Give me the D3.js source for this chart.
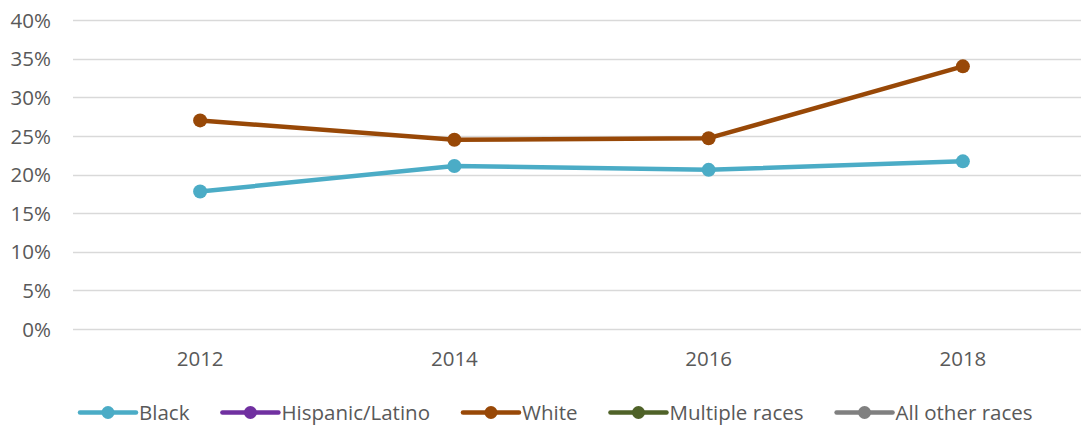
<!DOCTYPE html>
<html><head><meta charset="utf-8">
<script src="https://cdn.jsdelivr.net/npm/d3@7/dist/d3.min.js"></script>
<style>html,body{margin:0;padding:0;background:#fff;}svg{display:block;}</style>
</head><body>
<svg id="chart" width="1081" height="426"></svg>
<script>
const years = ["2012", "2014", "2016", "2018"];
const seriesNames = ["Black", "Hispanic/Latino", "White", "Multiple races", "All other races"];
const seriesColors = ["#4BACC6", "#7030A0", "#984807", "#4F6228", "#808080"];
const blackValues = [17.8, 21.1, 20.6, 21.7];
const whiteValues = [27.0, 24.5, 24.7, 34.0];
const yTicks = [0, 5, 10, 15, 20, 25, 30, 35, 40];

const plotted = [
  {name: "Black", color: seriesColors[0], values: blackValues},
  {name: "White", color: seriesColors[2], values: whiteValues}
];

const svg = d3.select("#chart");
const font = "'Open Sans', sans-serif";
const fs = 20.5;
const textColor = "#595959";

const x = d3.scaleBand().domain(years).range([73, 1090]);
const y = d3.scaleLinear().domain([0, 40]).range([329, 20]);

// gridlines
svg.append("g").selectAll("line").data(yTicks).join("line")
  .attr("x1", 73).attr("x2", 1081)
  .attr("y1", d => Math.round(y(d)) + 0.5).attr("y2", d => Math.round(y(d)) + 0.5)
  .attr("stroke", "#d9d9d9").attr("stroke-width", 1.5);

// y axis labels
const yAxis = d3.axisLeft(y).tickValues(yTicks).tickFormat(d => d + "%").tickSize(0).tickPadding(0);
const ya = svg.append("g").attr("transform", "translate(51,0)").call(yAxis);
ya.select(".domain").remove();
ya.selectAll("text").attr("font-family", font).attr("font-size", fs).attr("fill", textColor).attr("dy", "0.35em");

// x axis labels
const xAxis = d3.axisBottom(x).tickSize(0).tickPadding(0);
const xa = svg.append("g").attr("transform", "translate(0,359)").call(xAxis);
xa.select(".domain").remove();
xa.selectAll("text").attr("font-family", font).attr("font-size", fs).attr("fill", textColor).attr("dy", "0.35em");

const cx = d => x(d) + x.bandwidth() / 2;
const line = d3.line().x((d, i) => cx(years[i])).y(d => y(d));

plotted.forEach(s => {
  svg.append("path").datum(s.values).attr("d", line)
    .attr("fill", "none").attr("stroke", s.color).attr("stroke-width", 4.5)
    .attr("stroke-linejoin", "round");
  svg.append("g").selectAll("circle").data(s.values).join("circle")
    .attr("cx", (d, i) => cx(years[i])).attr("cy", d => y(d)).attr("r", 7)
    .attr("fill", s.color);
});

// legend
const legend = svg.append("g");
let lx = 80;
const ly = 412.5;
seriesNames.forEach((n, i) => {
  const g = legend.append("g");
  g.append("line").attr("x1", lx).attr("x2", lx + 56).attr("y1", ly).attr("y2", ly)
    .attr("stroke", seriesColors[i]).attr("stroke-width", 4.5).attr("stroke-linecap", "round");
  g.append("circle").attr("cx", lx + 28).attr("cy", ly).attr("r", 6.5).attr("fill", seriesColors[i]);
  const t = g.append("text").attr("x", lx + 59).attr("y", ly).attr("dy", "0.35em")
    .attr("font-family", font).attr("font-size", fs).attr("fill", textColor).text(n);
  lx = lx + 59 + t.node().getComputedTextLength() + 33;
});
</script>
</body></html>
